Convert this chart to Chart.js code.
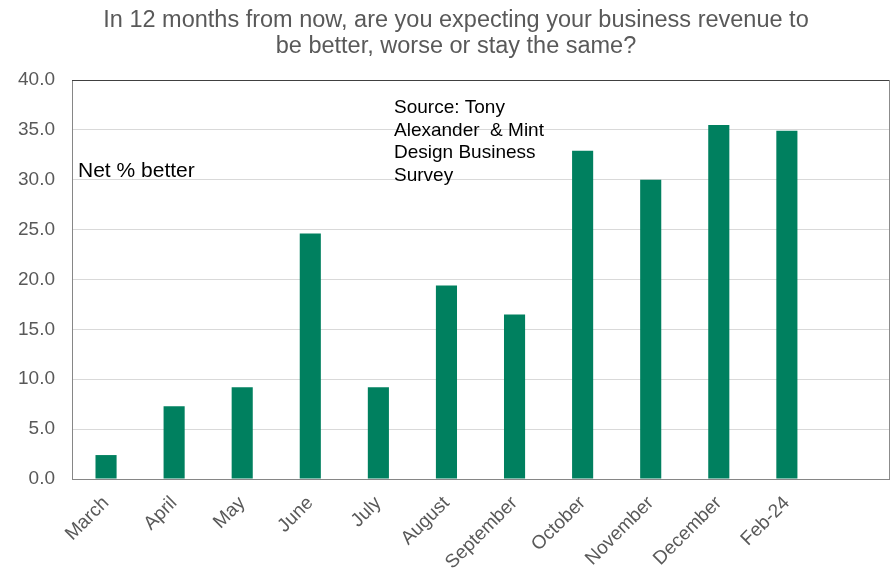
<!DOCTYPE html>
<html>
<head>
<meta charset="utf-8">
<script src="https://cdn.jsdelivr.net/npm/chart.js@4.4.1/dist/chart.umd.min.js"></script>
<style>
  html, body { margin: 0; padding: 0; background: #ffffff; }
  #wrap { width: 895px; height: 568px; }
</style>
</head>
<body>
<div id="wrap"><canvas id="chart" width="895" height="568"></canvas></div>
<script>
// Survey months (last slot left empty on purpose)
const months = ['March', 'April', 'May', 'June', 'July', 'August', 'September',
                'October', 'November', 'December', 'Feb-24', ''];
// Net % of businesses expecting better revenue in 12 months
const netBetter = [2.4, 7.3, 9.2, 24.6, 9.2, 19.4, 16.5, 32.9, 30.0, 35.5, 34.9, null];
// Value axis ticks
const yTicks = [0, 5, 10, 15, 20, 25, 30, 35, 40];

const titleLines = [
  'In 12 months from now, are you expecting your business revenue to',
  'be better, worse or stay the same?'
];
const seriesLabel = 'Net % better';
const sourceLines = ['Source: Tony', 'Alexander  & Mint', 'Design Business', 'Survey'];

const FONT = '"Liberation Sans", Arial, sans-serif';

// Title, in-chart notes and the plot frame
const decorations = {
  id: 'decorations',
  afterDraw(chart) {
    const { ctx, chartArea: a } = chart;
    ctx.save();
    // frame: dark top edge, grey right edge
    ctx.lineWidth = 1;
    ctx.strokeStyle = '#404040';
    ctx.beginPath();
    ctx.moveTo(a.left, a.top + 0.5);
    ctx.lineTo(a.right, a.top + 0.5);
    ctx.stroke();
    ctx.strokeStyle = '#8c8c8c';
    ctx.beginPath();
    ctx.moveTo(a.right + 0.5, a.top);
    ctx.lineTo(a.right + 0.5, a.bottom);
    ctx.stroke();

    // title
    ctx.fillStyle = '#595959';
    ctx.font = '23.5px ' + FONT;
    ctx.textAlign = 'center';
    ctx.textBaseline = 'middle';
    ctx.fillText(titleLines[0], 456, 21);
    ctx.fillText(titleLines[1], 456, 47);

    // notes inside the plot
    ctx.fillStyle = '#000000';
    ctx.textAlign = 'left';
    ctx.textBaseline = 'alphabetic';
    ctx.font = '21px ' + FONT;
    ctx.fillText(seriesLabel, a.left + 6, 177);
    ctx.font = '19px ' + FONT;
    sourceLines.forEach((s, i) => ctx.fillText(s, 394, 113 + i * 22.6));
    ctx.restore();
  }
};

new Chart(document.getElementById('chart'), {
  type: 'bar',
  data: {
    labels: months,
    datasets: [{
      label: seriesLabel,
      data: netBetter,
      backgroundColor: '#00805F',
      borderWidth: 0,
      barPercentage: 0.31,
      categoryPercentage: 1.0
    }]
  },
  options: {
    responsive: false,
    animation: false,
    layout: { padding: { top: 80, right: 6, left: 0, bottom: 0 } },
    plugins: {
      legend: { display: false },
      title: { display: false },
      tooltip: { enabled: false }
    },
    scales: {
      x: {
        grid: { display: false },
        border: { display: true, color: '#868686', width: 1 },
        ticks: {
          color: '#595959',
          font: { family: FONT, size: 19 },
          minRotation: 45,
          maxRotation: 45,
          autoSkip: false,
          padding: 5
        },
        afterFit(s) { s.height = 89; }
      },
      y: {
        min: 0,
        max: 40,
        afterBuildTicks(s) { s.ticks = yTicks.map(v => ({ value: v })); },
        grid: {
          drawTicks: false,
          color: c => (c.tick && c.tick.value === 40) ? '#404040' : '#d9d9d9',
          lineWidth: 1
        },
        border: { display: true, color: '#868686', width: 1 },
        ticks: {
          color: '#595959',
          font: { family: FONT, size: 19 },
          padding: 17,
          callback: v => Number(v).toFixed(1)
        },
        afterFit(s) { s.width = 72; }
      }
    }
  },
  plugins: [decorations]
});
</script>
</body>
</html>
